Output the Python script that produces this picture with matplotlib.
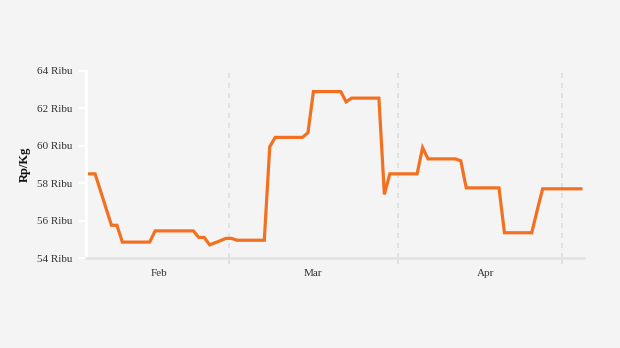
import matplotlib
matplotlib.use("Agg")
import matplotlib.pyplot as plt
import pandas as pd

# harga harian (ribu rupiah per kg)
dates = ["2024-02-05", "2024-02-06", "2024-02-09", "2024-02-10", "2024-02-11",
         "2024-02-16", "2024-02-17", "2024-02-24", "2024-02-25", "2024-02-26",
         "2024-02-27", "2024-03-01", "2024-03-02", "2024-03-03", "2024-03-08",
         "2024-03-09", "2024-03-10", "2024-03-15", "2024-03-16", "2024-03-17",
         "2024-03-22", "2024-03-23", "2024-03-24", "2024-03-29", "2024-03-30",
         "2024-03-31", "2024-04-05", "2024-04-06", "2024-04-07", "2024-04-12",
         "2024-04-13", "2024-04-14", "2024-04-20", "2024-04-21", "2024-04-26",
         "2024-04-27", "2024-04-28", "2024-05-05"]
prices = [58.5, 58.5, 55.75, 55.75, 54.85,
          54.85, 55.45, 55.45, 55.1, 55.1,
          54.7, 55.05, 55.05, 54.95, 54.95,
          59.95, 60.45, 60.45, 60.7, 62.9,
          62.9, 62.35, 62.55, 62.55, 57.4,
          58.5, 58.5, 59.9, 59.3, 59.3,
          59.2, 57.75, 57.75, 55.35, 55.35,
          56.55, 57.7, 57.7]
month_starts = ["2024-03-01", "2024-04-01", "2024-05-01"]
month_names = ["Feb", "Mar", "Apr"]
label_dates = ["2024-02-17 18:00", "2024-03-17 00:00", "2024-04-17 12:00"]
y_ticks = [54, 56, 58, 60, 62, 64]

bg = "#f4f4f4"
x = pd.to_datetime(dates)
bounds = pd.to_datetime(month_starts) + pd.Timedelta(hours=12)

fig = plt.figure(figsize=(6.2, 3.48), dpi=100, facecolor=bg)
ax = fig.add_axes([0.1387, 0.2586, 0.8033, 0.5374], facecolor=bg)

ax.plot(x, prices, color="#f37021", lw=2.3, solid_joinstyle="miter", zorder=3)

left = x[0] - pd.Timedelta(hours=16)
right = x[-1] + pd.Timedelta(hours=14)
ax.set_xlim(left, right)
ax.set_ylim(54, 64)

for b in bounds:
    ax.axvline(b, color="#dedede", lw=1.2, ls=(0, (3, 3)), zorder=1)

ax.set_xticks(list(bounds))
ax.set_xticklabels([])
ax.set_xticks(pd.to_datetime(label_dates), minor=True)
ax.set_xticklabels(month_names, minor=True, fontsize=8, family="Liberation Serif", color="#333333")
ax.tick_params(axis="x", which="major", length=4, width=1.2, color="#dedede")
ax.tick_params(axis="x", which="minor", length=0, pad=8)

ax.set_yticks(y_ticks)
ax.set_yticklabels([f"{v} Ribu" for v in y_ticks], fontsize=8, family="Liberation Serif", color="#333333")
ax.tick_params(axis="y", length=5, width=1.5, color="white", pad=5)

for s in ["top", "right"]:
    ax.spines[s].set_visible(False)
ax.spines["left"].set_color("white")
ax.spines["left"].set_linewidth(2)
ax.spines["bottom"].set_color("#e2e2e2")
ax.spines["bottom"].set_linewidth(1.8)

ax.set_ylabel("Rp/Kg", fontsize=9, family="Liberation Serif", fontweight="bold", color="#111111", labelpad=4)

fig.savefig("out.png", dpi=100, facecolor=bg)
